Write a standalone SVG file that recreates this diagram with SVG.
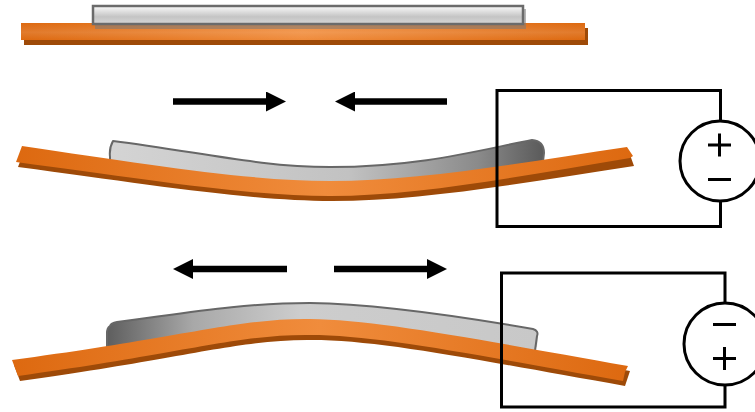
<svg xmlns="http://www.w3.org/2000/svg" width="755" height="412" viewBox="0 0 755 412">
  <style>
    .wire { fill: none; stroke: #000; stroke-width: 3; }
    .arrow { fill: none; stroke: #000; stroke-width: 6.5; marker-end: url(#head); }
    .sign { fill: none; stroke: #000; stroke-width: 3; }
    .base { fill: #9e4a08; }
    .bar { stroke: #676767; stroke-width: 2; stroke-linejoin: round; }
  </style>
  <defs>
    <marker id="head" markerUnits="userSpaceOnUse" viewBox="0 0 20 20" markerWidth="20" markerHeight="20" refX="0" refY="10" orient="auto">
      <path d="M0,0 L20,10 L0,20 Z" fill="#000"/>
    </marker>
    <linearGradient id="orange" x1="0" y1="0" x2="1" y2="0">
      <stop offset="0" stop-color="#dd6910"/>
      <stop offset="0.5" stop-color="#f08c3c"/>
      <stop offset="1" stop-color="#dd6910"/>
    </linearGradient>
    <linearGradient id="sheen" x1="0" y1="0" x2="0" y2="1">
      <stop offset="0" stop-color="#fff" stop-opacity="0"/>
      <stop offset="0.55" stop-color="#fff" stop-opacity="0.12"/>
      <stop offset="1" stop-color="#fff" stop-opacity="0"/>
    </linearGradient>
    <linearGradient id="flatBar" x1="0" y1="0" x2="0" y2="1">
      <stop offset="0" stop-color="#fbfbfb"/>
      <stop offset="0.6" stop-color="#c4c4c4"/>
      <stop offset="1" stop-color="#d6d6d6"/>
    </linearGradient>
    <linearGradient id="sagBar" x1="0" y1="0" x2="1" y2="0">
      <stop offset="0" stop-color="#d4d4d4"/>
      <stop offset="0.55" stop-color="#c2c2c2"/>
      <stop offset="0.85" stop-color="#8a8a8a"/>
      <stop offset="1" stop-color="#5a5a5a"/>
    </linearGradient>
    <linearGradient id="humpBar" x1="0" y1="0" x2="1" y2="0">
      <stop offset="0" stop-color="#5e5e5e"/>
      <stop offset="0.2" stop-color="#a8a8a8"/>
      <stop offset="0.45" stop-color="#cdcdcd"/>
      <stop offset="1" stop-color="#c8c8c8"/>
    </linearGradient>
  </defs>

  <!-- flat bimorph at rest -->
  <g id="flat-strip">
    <rect class="base" x="24" y="28" width="564" height="17"/>
    <rect x="21" y="23" width="564" height="17" fill="url(#orange)"/>
    <rect x="21" y="23" width="564" height="17" fill="url(#sheen)"/>
    <rect x="95" y="9" width="431" height="20" fill="#7a7a7a" opacity="0.55"/>
    <rect x="93" y="6" width="430" height="18" fill="url(#flatBar)" stroke="#6b6b6b" stroke-width="2.5"/>
  </g>

  <!-- strip bent downward (layer contracting) -->
  <g id="sag-strip">
    <path class="bar" fill="url(#sagBar)" d="M113,141 C200,152 260,167 330,167 C420,167 480,150 532,140 Q544,141 544,153 L542,170 C480,178 420,192 330,192 C250,192 200,178 110,166 L110,157 Q109,148 113,141 Z"/>
    <path class="base" transform="translate(2,5)" d="M22,146 C150,165 250,181 330,181 C420,181 520,163 627,147 L632,161 C520,178 420,196 330,196 C250,196 150,180 16,162 Z"/>
    <path fill="url(#orange)" d="M22,146 C150,165 250,181 330,181 C420,181 520,163 627,147 L633,156 L630,158 C520,176 420,196 330,196 C250,196 150,180 16,162 Z"/>
  </g>

  <!-- strip bent upward (layer expanding) -->
  <g id="hump-strip">
    <path fill="#c8c8c8" opacity="0.6" d="M520,340 L538,336 L537,347 L526,349 Z"/>
    <path class="bar" fill="url(#humpBar)" d="M110,326 Q111,323 117,322 C180,314 240,303 310,303 C380,304 470,318 533,329 Q539,331 537,336 L534,358 C470,346 380,326 310,326 C240,326 180,345 107,356 L107,333 Q107,328 110,326 Z"/>
    <path class="base" transform="translate(2,5)" d="M12,360 C180,338 240,318 310,319 C380,320 480,340 628,366 L623,381 C480,356 380,335 310,335 C240,334 180,354 18,376 Z"/>
    <path fill="url(#orange)" d="M12,360 C180,338 240,318 310,319 C380,320 480,340 628,366 L625,372 L623,381 C480,356 380,335 310,335 C240,334 180,354 18,376 Z"/>
  </g>

  <!-- force arrows and circuit wiring -->
  <g id="connectors">
    <line class="arrow" x1="173" y1="101.5" x2="266" y2="101.5"/>
    <line class="arrow" x1="447" y1="101.5" x2="355" y2="101.5"/>
    <line class="arrow" x1="287" y1="269" x2="193" y2="269"/>
    <line class="arrow" x1="334" y1="269" x2="427" y2="269"/>
    <path class="wire" d="M720.5,121 V90.5 H497 V226.5 H720.5 V201"/>
    <path class="wire" d="M725,303 V273 H501.5 V407 H725 V385"/>
  </g>

  <!-- voltage source, + on top -->
  <g id="source-1">
    <circle class="wire" cx="720" cy="161" r="40"/>
    <path class="sign" d="M708,145 H731 M719.5,133.5 V156.5 M708,179.5 H731"/>
  </g>

  <!-- voltage source, reversed polarity -->
  <g id="source-2">
    <circle class="wire" cx="725" cy="344" r="41"/>
    <path class="sign" d="M713,324.5 H736 M713,358.5 H736 M724.5,347 V370"/>
  </g>
</svg>
